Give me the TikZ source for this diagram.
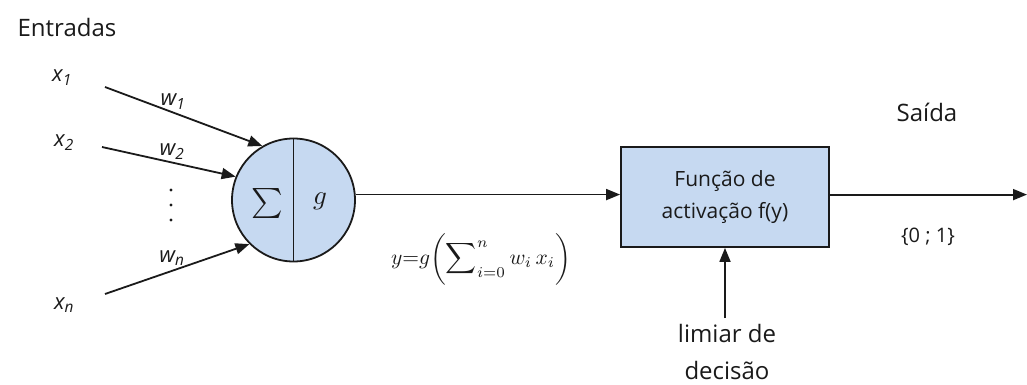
\documentclass[tikz,border=0pt]{standalone}
\usepackage{graphicx}
\usepackage{fontspec}
\setmainfont{Open Sans}
\usetikzlibrary{arrows.meta}
\definecolor{nfill}{HTML}{C6D9F1}
\definecolor{ink}{HTML}{1A1A1A}
\tikzset{
  conn/.style={line width=1.8pt, draw=ink, -{Triangle[length=14pt,width=11pt]}},
  plain/.style={line width=1.8pt, draw=ink},
  lbl/.style={font=\fontsize{24}{28}\selectfont, text=ink, inner sep=0pt},
  small/.style={font=\fontsize{20}{24}\selectfont, text=ink, inner sep=0pt},
  inlbl/.style={font=\fontsize{22}{24}\selectfont\itshape, text=ink, inner sep=0pt},
  shapefill/.style={draw=ink, fill=nfill, line width=1.8pt}
}
\begin{document}
\begin{tikzpicture}[x=1pt,y=-1pt]
\useasboundingbox (0,0) rectangle (1027,385);
% titles
\node[lbl] (entr) at (67,28) {Entradas};
\node[lbl] (saida) at (927,112) {Saída};
% inputs
\node[inlbl] (x1) at (62,78) {x\textsubscript{1}};
\node[inlbl] (x2) at (64,143) {x\textsubscript{2}};
\node[inlbl] (xn) at (64,305) {x\textsubscript{n}};
\coordinate (s1) at (105,87);
\coordinate (s2) at (102,147);
\coordinate (sn) at (105,294);
% neuron
\node[shapefill, circle, minimum size=123pt, inner sep=0pt] (neuron) at (293.5,200) {};
\draw[plain] (neuron.north) -- (neuron.south);
\node[text=ink, inner sep=0pt] (sum) at (267,203) {\scalebox{3}{$\sum$}};
\node[text=ink, inner sep=0pt] (gg) at (320,201) {\scalebox{2.7}{$g$}};
% weights
\draw[conn] (s1) -- (neuron.120.7);
\draw[conn] (s2) -- (neuron.158.5);
\draw[conn] (sn) -- (neuron.225);
\node[inlbl] (w1) at (173,102) {w\textsubscript{1}};
\node[inlbl] (w2) at (172,152) {w\textsubscript{2}};
\node[inlbl] (wn) at (172,258) {w\textsubscript{n}};
\fill[ink] (171,190) circle (1.6pt) (171,205) circle (1.6pt) (171,220) circle (1.6pt);
% activation box
\node[shapefill, minimum width=208pt, minimum height=100pt, align=center,
      font=\fontsize{21}{32}\selectfont, text=ink] (box) at (725,197) {Função de\\activação f(y)};
\draw[conn] (neuron.5) -- (box.west |- neuron.5);
\coordinate (out) at (1027,194.6);
\draw[conn] (box.east |- out) -- (out);
\node[small] (res) at (928,237) {\{0 ; 1\}};
% formula
\node[text=ink, inner sep=0pt] (formula) at (481,259)
  {\scalebox{2.15}{$y{=}g\biggl(\displaystyle\sum\nolimits_{i=0}^{n} w_i\, x_i\biggr)$}};
% threshold
\node[lbl, anchor=base] (lim1) at (727,342) {limiar de};
\node[lbl, anchor=base] (lim2) at (727,379) {decisão};
\coordinate (ls) at (725,318);
\draw[conn] (ls) -- (box.south -| ls);
\end{tikzpicture}
\end{document}
